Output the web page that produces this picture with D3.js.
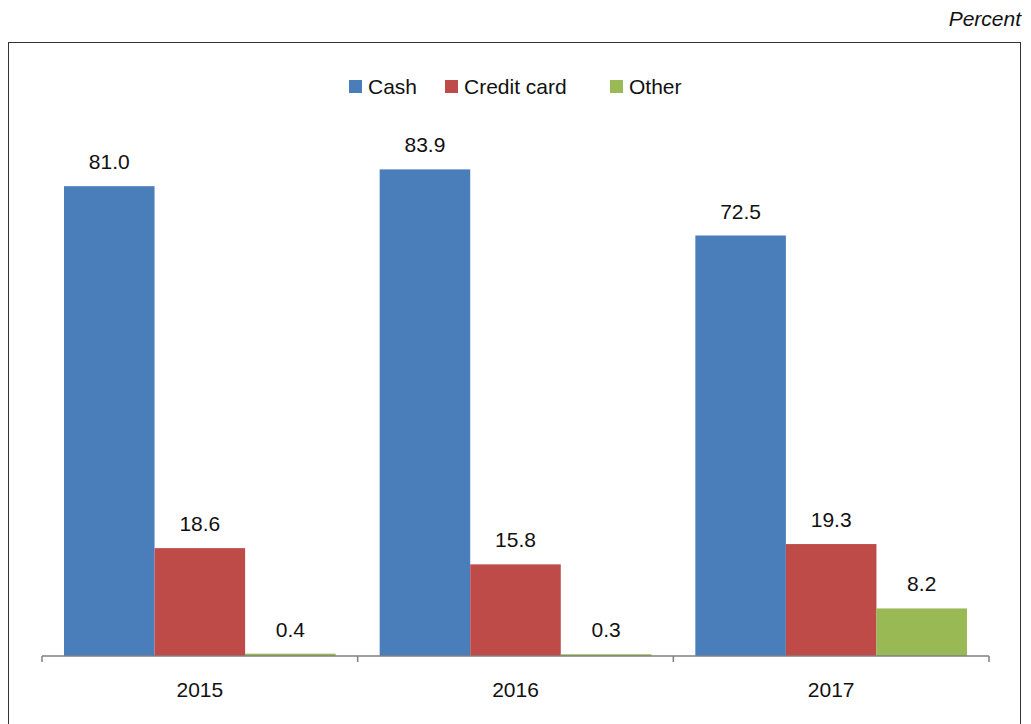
<!DOCTYPE html>
<html>
<head>
<meta charset="utf-8">
<script src="https://cdn.jsdelivr.net/npm/d3@7"></script>
<style>
  html, body { margin: 0; padding: 0; background: #fff; }
  svg { display: block; font-family: "Liberation Sans", Arial, Helvetica, sans-serif; }
</style>
</head>
<body>
<svg id="chart" width="1031" height="724"></svg>
<script>
const years = ["2015", "2016", "2017"];
const seriesNames = ["Cash", "Credit card", "Other"];
const cash = [81.0, 83.9, 72.5];
const creditCard = [18.6, 15.8, 19.3];
const other = [0.4, 0.3, 8.2];
const colors = ["#4A7EBB", "#BE4B48", "#98B954"];

const seriesValues = [cash, creditCard, other];
const data = years.map((yr, i) => ({
  year: yr,
  values: seriesNames.map((s, j) => ({ series: s, value: seriesValues[j][i], color: colors[j] }))
}));

const svg = d3.select("#chart");
const FS = 21;

// Frame
svg.append("rect")
  .attr("x", 8.5).attr("y", 42.5)
  .attr("width", 1012).attr("height", 700)
  .attr("fill", "none").attr("stroke", "#333").attr("stroke-width", 1);

// Unit label
svg.append("text")
  .attr("x", 1021).attr("y", 26)
  .attr("text-anchor", "end")
  .attr("font-size", FS).attr("font-style", "italic")
  .attr("fill", "#111")
  .text("Percent");

const x0 = d3.scaleBand().domain(years).range([42, 989]).paddingInner(0).paddingOuter(0);
const x1 = d3.scaleBand().domain(seriesNames).range([22, x0.bandwidth() - 22]).padding(0);
const y = d3.scaleLinear().domain([0, 100]).range([656, 76]);

const groups = svg.append("g").selectAll("g")
  .data(data).join("g")
  .attr("transform", d => `translate(${x0(d.year)},0)`);

groups.selectAll("rect")
  .data(d => d.values).join("rect")
  .attr("x", d => x1(d.series))
  .attr("y", d => y(d.value))
  .attr("width", x1.bandwidth())
  .attr("height", d => y(0) - y(d.value))
  .attr("fill", d => d.color);

groups.selectAll("text.val")
  .data(d => d.values).join("text")
  .attr("class", "val")
  .attr("x", d => x1(d.series) + x1.bandwidth() / 2)
  .attr("y", d => y(d.value) - 17)
  .attr("text-anchor", "middle")
  .attr("font-size", FS)
  .attr("fill", "#111")
  .text(d => d.value.toFixed(1));

// X axis
const axis = svg.append("g")
  .attr("transform", `translate(0,${y(0)})`);
axis.append("line")
  .attr("x1", 42).attr("x2", 989)
  .attr("stroke", "#808080").attr("stroke-width", 1.5);
const tickPositions = years.map(yv => x0(yv)).concat([x0(years[years.length - 1]) + x0.bandwidth()]);
axis.selectAll("line.tick")
  .data(tickPositions).join("line")
  .attr("class", "tick")
  .attr("x1", d => d).attr("x2", d => d)
  .attr("y1", 0).attr("y2", 6)
  .attr("stroke", "#808080").attr("stroke-width", 1.5);
axis.selectAll("text")
  .data(years).join("text")
  .attr("x", d => x0(d) + x0.bandwidth() / 2)
  .attr("y", 41)
  .attr("text-anchor", "middle")
  .attr("font-size", FS)
  .attr("fill", "#111")
  .text(d => d);

// Legend
const legendItems = [
  { name: "Cash", x: 349, color: colors[0] },
  { name: "Credit card", x: 445, color: colors[1] },
  { name: "Other", x: 610, color: colors[2] }
];
const legend = svg.append("g");
legend.selectAll("rect")
  .data(legendItems).join("rect")
  .attr("x", d => d.x).attr("y", 80)
  .attr("width", 13).attr("height", 13)
  .attr("fill", d => d.color);
legend.selectAll("text")
  .data(legendItems).join("text")
  .attr("x", d => d.x + 19).attr("y", 94)
  .attr("font-size", FS)
  .attr("fill", "#111")
  .text(d => d.name);
</script>
</body>
</html>
